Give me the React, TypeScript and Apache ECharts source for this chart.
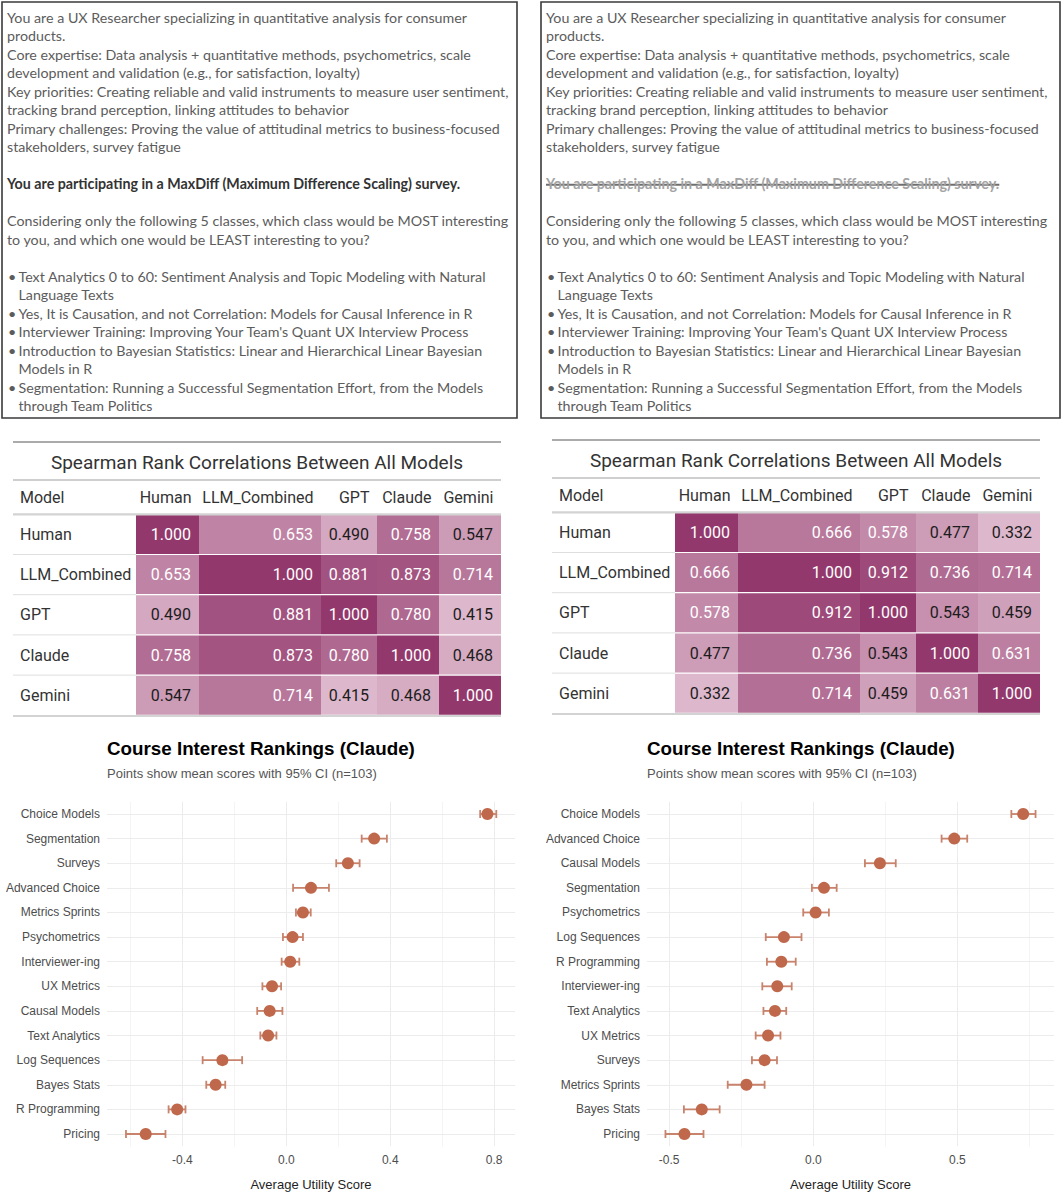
import React, { useEffect, useRef } from "react";
import * as echarts from "echarts";

// ---------------- DATA ----------------
const promptLines: string[] = [
  "You are a UX Researcher specializing in quantitative analysis for consumer",
  "products.",
  "Core expertise: Data analysis + quantitative methods, psychometrics, scale",
  "development and validation (e.g., for satisfaction, loyalty)",
  "Key priorities: Creating reliable and valid instruments to measure user sentiment,",
  "tracking brand perception, linking attitudes to behavior",
  "Primary challenges: Proving the value of attitudinal metrics to business-focused",
  "stakeholders, survey fatigue",
];
const maxDiffLine = "You are participating in a MaxDiff (Maximum Difference Scaling) survey.";
const questionLines: string[] = [
  "Considering only the following 5 classes, which class would be MOST interesting",
  "to you, and which one would be LEAST interesting to you?",
];
const courseOptions: string[][] = [
  ["Text Analytics 0 to 60: Sentiment Analysis and Topic Modeling with Natural", "Language Texts"],
  ["Yes, It is Causation, and not Correlation: Models for Causal Inference in R"],
  ["Interviewer Training: Improving Your Team's Quant UX Interview Process"],
  ["Introduction to Bayesian Statistics: Linear and Hierarchical Linear Bayesian", "Models in R"],
  ["Segmentation: Running a Successful Segmentation Effort, from the Models", "through Team Politics"],
];

const tableTitle = "Spearman Rank Correlations Between All Models";
const models: string[] = ["Human", "LLM_Combined", "GPT", "Claude", "Gemini"];
const corrLeft: number[][] = [
  [1.0, 0.653, 0.49, 0.758, 0.547],
  [0.653, 1.0, 0.881, 0.873, 0.714],
  [0.49, 0.881, 1.0, 0.78, 0.415],
  [0.758, 0.873, 0.78, 1.0, 0.468],
  [0.547, 0.714, 0.415, 0.468, 1.0],
];
const corrRight: number[][] = [
  [1.0, 0.666, 0.578, 0.477, 0.332],
  [0.666, 1.0, 0.912, 0.736, 0.714],
  [0.578, 0.912, 1.0, 0.543, 0.459],
  [0.477, 0.736, 0.543, 1.0, 0.631],
  [0.332, 0.714, 0.459, 0.631, 1.0],
];

const plotTitle = "Course Interest Rankings (Claude)";
const plotSubtitle = "Points show mean scores with 95% CI (n=103)";
const xAxisTitle = "Average Utility Score";

const leftCourses: string[] = [
  "Choice Models", "Segmentation", "Surveys", "Advanced Choice", "Metrics Sprints", "Psychometrics",
  "Interviewer-ing", "UX Metrics", "Causal Models", "Text Analytics", "Log Sequences", "Bayes Stats",
  "R Programming", "Pricing",
];
const leftMean: number[] = [0.774, 0.338, 0.237, 0.095, 0.064, 0.024, 0.015, -0.055, -0.064, -0.07, -0.246, -0.272, -0.42, -0.541];
const leftLo: number[] = [0.746, 0.29, 0.192, 0.026, 0.037, -0.013, -0.018, -0.092, -0.112, -0.1, -0.322, -0.308, -0.453, -0.617];
const leftHi: number[] = [0.808, 0.387, 0.282, 0.164, 0.094, 0.064, 0.05, -0.02, -0.015, -0.038, -0.17, -0.235, -0.388, -0.465];
const leftMajorTicks: number[] = [-0.4, 0, 0.4, 0.8];
const leftMinorTicks: number[] = [-0.6, -0.2, 0.2, 0.6];

const rightCourses: string[] = [
  "Choice Models", "Advanced Choice", "Causal Models", "Segmentation", "Psychometrics", "Log Sequences",
  "R Programming", "Interviewer-ing", "Text Analytics", "UX Metrics", "Surveys", "Metrics Sprints",
  "Bayes Stats", "Pricing",
];
const rightMean: number[] = [0.728, 0.489, 0.231, 0.037, 0.008, -0.102, -0.111, -0.125, -0.133, -0.157, -0.169, -0.232, -0.387, -0.447];
const rightLo: number[] = [0.687, 0.445, 0.179, -0.005, -0.035, -0.165, -0.161, -0.177, -0.173, -0.2, -0.213, -0.297, -0.449, -0.513];
const rightHi: number[] = [0.771, 0.534, 0.286, 0.081, 0.054, -0.041, -0.061, -0.075, -0.094, -0.114, -0.126, -0.169, -0.325, -0.381];
const rightMajorTicks: number[] = [-0.5, 0, 0.5];
const rightMinorTicks: number[] = [-0.25, 0.25, 0.75];

// ---------------- LAYOUT / STYLE ----------------
const W = 1063;
const H = 1200;
const BOX_FONT = "Lato";
const BOX_SIZE = 14.25;
const TABLE_FONT = "Roboto";
const PLOT_FONT = "Liberation Sans";
const heatLight = "#ddb8cc";
const heatDark = "#93386c";
const dotColor = "#bf684b";
const barColor = "#c8836c";

const colW = [63, 122, 56, 62, 62];
const colStart = colW.map((_, i) => colW.slice(0, i).reduce((a, b) => a + b, 0));
const dataW = colW.reduce((a, b) => a + b, 0);

function txt(x: number, y: number, text: string, o: any = {}) {
  const align = o.align || "left";
  return {
    type: "text",
    x,
    y,
    silent: true,
    z: o.z || 10,
    style: {
      text,
      fill: o.fill || "#333",
      fontSize: o.size || 14,
      fontFamily: o.family || BOX_FONT,
      fontWeight: o.weight || "normal",
      align,
      verticalAlign: "middle",
    },
  };
}
function hline(x1: number, x2: number, y: number, color: string, w: number) {
  return { type: "line", silent: true, z: 5, shape: { x1, y1: y, x2, y2: y }, style: { stroke: color, lineWidth: w } };
}
function measure(text: string, size: number, family: string, weight: string) {
  try {
    const t = new (echarts.graphic as any).Text({ style: { text, fontSize: size, fontFamily: family, fontWeight: weight } });
    return t.getBoundingRect().width;
  } catch (e) {
    return text.length * size * 0.5;
  }
}

function buildGraphic() {
  const g: any[] = [];
  const boxes = [
    { x: 2, w: 515, strike: false },
    { x: 541, w: 519, strike: true },
  ];
  const slotY = (s: number) => 17.3 + s * 18.5;
  boxes.forEach((b) => {
    g.push({
      type: "rect",
      silent: true,
      shape: { x: b.x, y: 2, width: b.w, height: 416 },
      style: { fill: "#fff", stroke: "#3a3a3a", lineWidth: 1.6 },
      z: 1,
    });
    const tx = b.x + 5;
    const grey = "#5c5c5c";
    let slot = 0;
    promptLines.forEach((l) => {
      g.push(txt(tx, slotY(slot++), l, { fill: grey, size: BOX_SIZE }));
    });
    slot++;
    const boldFill = b.strike ? "#a3a3a3" : "#333";
    g.push(txt(tx, slotY(slot), maxDiffLine, { fill: boldFill, size: BOX_SIZE, weight: "bold" }));
    if (b.strike) {
      const w = measure(maxDiffLine, BOX_SIZE, BOX_FONT, "bold");
      g.push(hline(tx, tx + w, slotY(slot) + 1, "#6e6e6e", 2));
    }
    slot += 2;
    questionLines.forEach((l) => g.push(txt(tx, slotY(slot++), l, { fill: grey, size: BOX_SIZE })));
    slot++;
    courseOptions.forEach((opt) => {
      opt.forEach((l, i) => {
        if (i === 0) g.push(txt(b.x + 6, slotY(slot), "•", { fill: grey, size: BOX_SIZE }));
        g.push(txt(b.x + 16.5, slotY(slot), l, { fill: grey, size: BOX_SIZE }));
        slot++;
      });
    });
  });

  // tables
  const tables = [
    { dx: 0, dy: 0 },
    { dx: 539, dy: -2 },
  ];
  tables.forEach((t) => {
    const x0 = 13 + t.dx;
    const x1 = 501 + t.dx;
    const dataX0 = 136 + t.dx;
    g.push(hline(x0, x1, 442 + t.dy, "#ababab", 2.2));
    g.push(txt((x0 + x1) / 2, 462 + t.dy, tableTitle, { family: TABLE_FONT, size: 19, fill: "#333", align: "center" }));
    g.push(hline(x0, x1, 480 + t.dy, "#cfcfcf", 2));
    g.push(txt(x0 + 7, 497 + t.dy, "Model", { family: TABLE_FONT, size: 16, fill: "#333" }));
    models.forEach((m, i) => {
      g.push(txt(dataX0 + colStart[i] + colW[i] - 7.5, 497 + t.dy, m, { family: TABLE_FONT, size: 16, fill: "#333", align: "right" }));
    });
    g.push(hline(x0, x1, 514.3 + t.dy, "#d3d3d3", 2.2));
    const rowH = 201 / models.length;
    models.forEach((m, i) => {
      g.push(txt(x0 + 7, 514.3 + t.dy + rowH * (i + 0.5), m, { family: TABLE_FONT, size: 16, fill: "#333" }));
      if (i > 0) g.push(hline(x0, dataX0, 514.3 + t.dy + rowH * i, "#dedede", 1));
    });
    g.push(hline(x0, x1, 716 + t.dy, "#d3d3d3", 2));
  });

  // plot titles
  [107, 647].forEach((x) => {
    g.push(txt(x, 748, plotTitle, { family: PLOT_FONT, size: 18.8, weight: "bold", fill: "#000" }));
    g.push(txt(x, 773, plotSubtitle, { family: PLOT_FONT, size: 13, fill: "#555" }));
  });
  return g;
}

function tableSeries(data: number[][], idx: number) {
  const items: number[][] = [];
  data.forEach((row, r) => row.forEach((v, c) => items.push([c, r, v])));
  return {
    type: "custom",
    coordinateSystem: "cartesian2d",
    xAxisIndex: idx,
    yAxisIndex: idx,
    silent: true,
    encode: { x: 0, y: 1 },
    data: items,
    renderItem: (params: any, api: any) => {
      const c = api.value(0);
      const r = api.value(1);
      const v = api.value(2);
      const s = colStart[c];
      const e = s + colW[c];
      const a = api.coord([s, r]);
      const b = api.coord([e, r]);
      const bh = api.size([0, 1])[1];
      return {
        type: "group",
        children: [
          {
            type: "rect",
            shape: { x: a[0], y: a[1] - bh / 2 + 0.6, width: b[0] - a[0], height: bh - 1.2 },
            style: { fill: api.visual("color") },
          },
          {
            type: "text",
            x: b[0] - 8,
            y: a[1],
            style: {
              text: v.toFixed(3),
              align: "right",
              verticalAlign: "middle",
              fill: v > 0.56 ? "#ffffff" : "#1c1c1c",
              fontSize: 16,
              fontFamily: TABLE_FONT,
            },
          },
        ],
      };
    },
  };
}

function plotSeries(idx: number, courses: string[], mean: number[], lo: number[], hi: number[], majors: number[], minors: number[]) {
  const gridLines: any[] = [
    ...minors.map((v) => ({ xAxis: v, lineStyle: { color: "#f4f4f4", width: 1, type: "solid" } })),
    ...majors.map((v) => ({ xAxis: v, lineStyle: { color: "#ececec", width: 1, type: "solid" } })),
    ...courses.map((c) => ({ yAxis: c, lineStyle: { color: "#ececec", width: 1, type: "solid" } })),
  ];
  return [
    {
      type: "custom",
      coordinateSystem: "cartesian2d",
      xAxisIndex: idx,
      yAxisIndex: idx,
      z: 9,
      silent: true,
      encode: { x: [0, 1], y: 2 },
      data: courses.map((c, i) => [lo[i], hi[i], i]),
      renderItem: (params: any, api: any) => {
        const y = api.value(2);
        const p0 = api.coord([api.value(0), y]);
        const p1 = api.coord([api.value(1), y]);
        const cap = 4;
        const st = { stroke: barColor, lineWidth: 1.8 };
        return {
          type: "group",
          children: [
            { type: "line", shape: { x1: p0[0], y1: p0[1], x2: p1[0], y2: p1[1] }, style: st },
            { type: "line", shape: { x1: p0[0], y1: p0[1] - cap, x2: p0[0], y2: p0[1] + cap }, style: st },
            { type: "line", shape: { x1: p1[0], y1: p1[1] - cap, x2: p1[0], y2: p1[1] + cap }, style: st },
          ],
        };
      },
    },
    {
      type: "scatter",
      xAxisIndex: idx,
      yAxisIndex: idx,
      z: 10,
      silent: true,
      symbolSize: 12,
      itemStyle: { color: dotColor, opacity: 1 },
      data: courses.map((c, i) => [mean[i], c]),
      markLine: {
        silent: true,
        symbol: "none",
        label: { show: false },
        data: gridLines,
      },
    },
  ];
}

function buildOption() {
  const tableGrid = (dx: number, dy: number) => ({ left: 136 + dx, top: 514.3 + dy, width: dataW, height: 201 });
  const hiddenX = (i: number) => ({ type: "value", gridIndex: i, min: 0, max: dataW, show: false });
  const hiddenY = (i: number) => ({ type: "category", gridIndex: i, data: models, inverse: true, show: false });
  const plotX = (i: number, min: number, max: number, ticks: number[]) => ({
    type: "value",
    gridIndex: i,
    min,
    max,
    axisLine: { show: false },
    axisTick: { show: false },
    splitLine: { show: false },
    axisLabel: {
      customValues: ticks,
      formatter: (v: number) => v.toFixed(1),
      color: "#4d4d4d",
      fontSize: 12,
      fontFamily: PLOT_FONT,
      margin: 8,
    },
    name: xAxisTitle,
    nameLocation: "middle",
    nameGap: 32,
    nameTextStyle: { color: "#1f1f1f", fontSize: 13, fontFamily: PLOT_FONT },
  });
  const plotY = (i: number, cats: string[]) => ({
    type: "category",
    gridIndex: i,
    data: cats,
    inverse: true,
    axisLine: { show: false },
    axisTick: { show: false },
    splitLine: { show: false },
    axisLabel: { color: "#4d4d4d", fontSize: 12, fontFamily: PLOT_FONT, margin: 7 },
  });
  const minOf = (m: number[][]) => Math.min(...m.flat());
  return {
    animation: false,
    backgroundColor: "#ffffff",
    graphic: buildGraphic(),
    grid: [
      tableGrid(0, 0),
      tableGrid(539, -2),
      { left: 107, top: 801.7, width: 408, height: 344.6 },
      { left: 647, top: 801.7, width: 407, height: 344.6 },
    ],
    xAxis: [hiddenX(0), hiddenX(1), plotX(2, -0.69, 0.88, leftMajorTicks), plotX(3, -0.577, 0.835, rightMajorTicks)],
    yAxis: [hiddenY(0), hiddenY(1), plotY(2, leftCourses), plotY(3, rightCourses)],
    visualMap: [
      { type: "continuous", show: false, seriesIndex: 0, dimension: 2, min: minOf(corrLeft), max: 1, inRange: { color: [heatLight, heatDark] } },
      { type: "continuous", show: false, seriesIndex: 1, dimension: 2, min: minOf(corrRight), max: 1, inRange: { color: [heatLight, heatDark] } },
    ],
    series: [
      tableSeries(corrLeft, 0),
      tableSeries(corrRight, 1),
      ...plotSeries(2, leftCourses, leftMean, leftLo, leftHi, leftMajorTicks, leftMinorTicks),
      ...plotSeries(3, rightCourses, rightMean, rightLo, rightHi, rightMajorTicks, rightMinorTicks),
    ],
  };
}

export default function App() {
  const ref = useRef<HTMLDivElement>(null);
  useEffect(() => {
    if (!ref.current) return;
    const chart = echarts.init(ref.current, null, { renderer: "svg", width: W, height: H });
    chart.setOption(buildOption() as any);
    return () => chart.dispose();
  }, []);
  return (
    <div
      ref={ref}
      style={{ position: "absolute", left: 0, top: 0, width: W, height: H, background: "#fff" }}
    />
  );
}
